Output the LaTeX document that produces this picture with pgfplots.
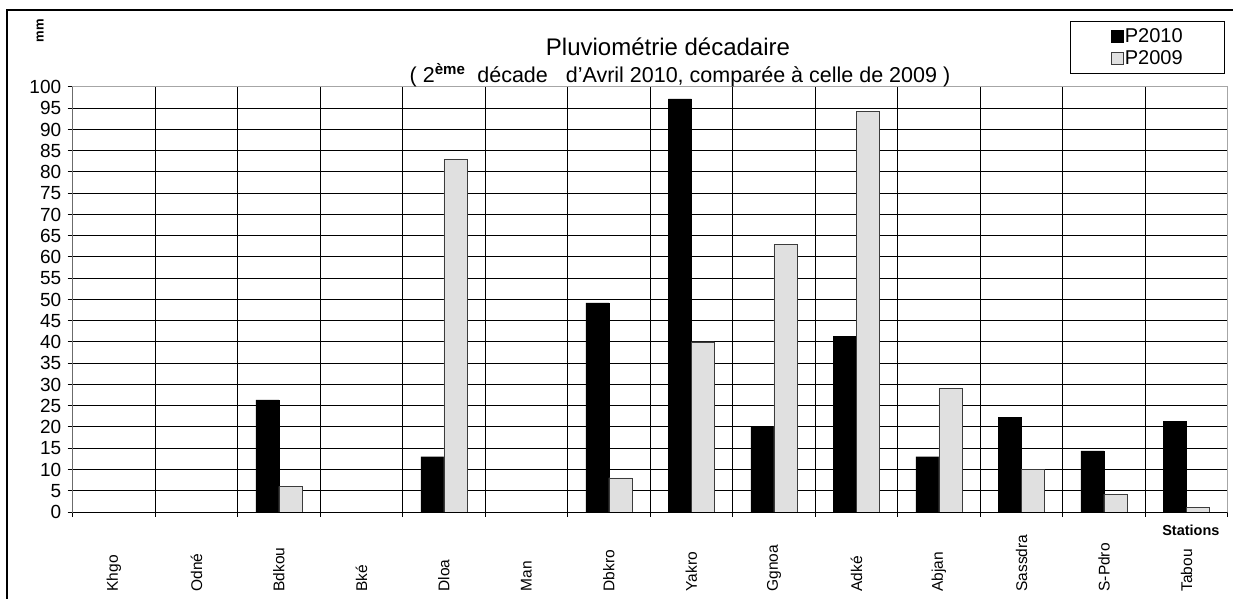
\documentclass[border=0pt]{standalone}
\usepackage{fontspec}
\setmainfont{Liberation Sans}
\usepackage{pgfplots}
\pgfplotsset{compat=1.18}
\definecolor{lightbar}{RGB}{224,224,224}
\definecolor{barline}{RGB}{60,60,60}
\begin{document}
\begin{tikzpicture}
\begin{axis}[
  at={(72.7pt,87pt)}, anchor=south west,
  scale only axis, width=1155pt, height=425pt,
  xmin=-0.5, xmax=13.5, ymin=0, ymax=100,
  ybar=0pt, bar width=23pt,
  xtick={0,...,13},
  xticklabels={Khgo,Odné,Bdkou,Bké,Dloa,Man,Dbkro,Yakro,Ggnoa,Adké,Abjan,Sassdra,S-Pdro,Tabou},
  minor xtick={-0.5,0.5,...,13.5},
  major x tick style={draw=none},
  xminorgrids, minor x grid style={black, line width=1pt},
  ymajorgrids, major y grid style={black, line width=1pt},
  ytick={0,5,...,100},
  tick align=outside, xtick pos=bottom, ytick pos=left,
  major tick length=5pt, minor tick length=5pt,
  tick style={black, line width=1pt},
  axis line style={gray!70, line width=1pt},
  /pgf/number format/assume math mode=true,
  yticklabel style={font=\fontsize{19}{19}\selectfont, xshift=-3pt},
  xticklabel style={font=\fontsize{15.5}{15.5}\selectfont, rotate=90, anchor=west},
  xticklabel shift=78pt,
  legend style={at={(rel axis cs:1,1)}, anchor=south east, xshift=-3pt, yshift=13pt,
    draw=black, line width=1pt, inner xsep=40pt, inner ysep=5pt,
    font=\fontsize{20}{20}\selectfont, row sep=3pt,
    nodes={inner xsep=1.5pt}},
  legend cell align=left,
  legend image code/.code={\draw[#1, line width=0.8pt] (0pt,-6pt) rectangle (12pt,6pt);},
]
\addplot[fill=black, draw=black] coordinates {(2,26.4) (4,13) (6,49.2) (7,97.2) (8,20) (9,41.3) (10,13) (11,22.2) (12,14.4) (13,21.4)};
\addplot[fill=lightbar, draw=barline] coordinates {(2,6) (4,83) (6,8) (7,40) (8,63) (9,94.2) (10,29.1) (11,10) (12,4.2) (13,1.1)};
\legend{P2010,P2009}
\draw[black, line width=1pt] (rel axis cs:0,1) -- (rel axis cs:0,0) -- (rel axis cs:1,0);
\end{axis}
\draw[line width=1.5pt] (7pt,-5pt) -- (7pt,589pt) -- (1240pt,589pt);
\node[font=\fontsize{24}{24}\selectfont] at (668pt,552pt) {Pluviométrie décadaire};
\node[font=\fontsize{21.5}{21.5}\selectfont] at (680pt,524pt) {( 2\textsuperscript{\bfseries ème}\ \ décade\ \ \ d'Avril 2010, comparée à celle de 2009 )};
\node[font=\fontsize{13}{13}\selectfont\bfseries, rotate=90] at (40pt,568pt) {mm};
\node[font=\fontsize{14.5}{14.5}\selectfont\bfseries, anchor=east] at (1223pt,69pt) {Stations};
\pgfresetboundingbox
\useasboundingbox (0pt,0pt) rectangle (1233pt,599pt);
\end{tikzpicture}
\end{document}
